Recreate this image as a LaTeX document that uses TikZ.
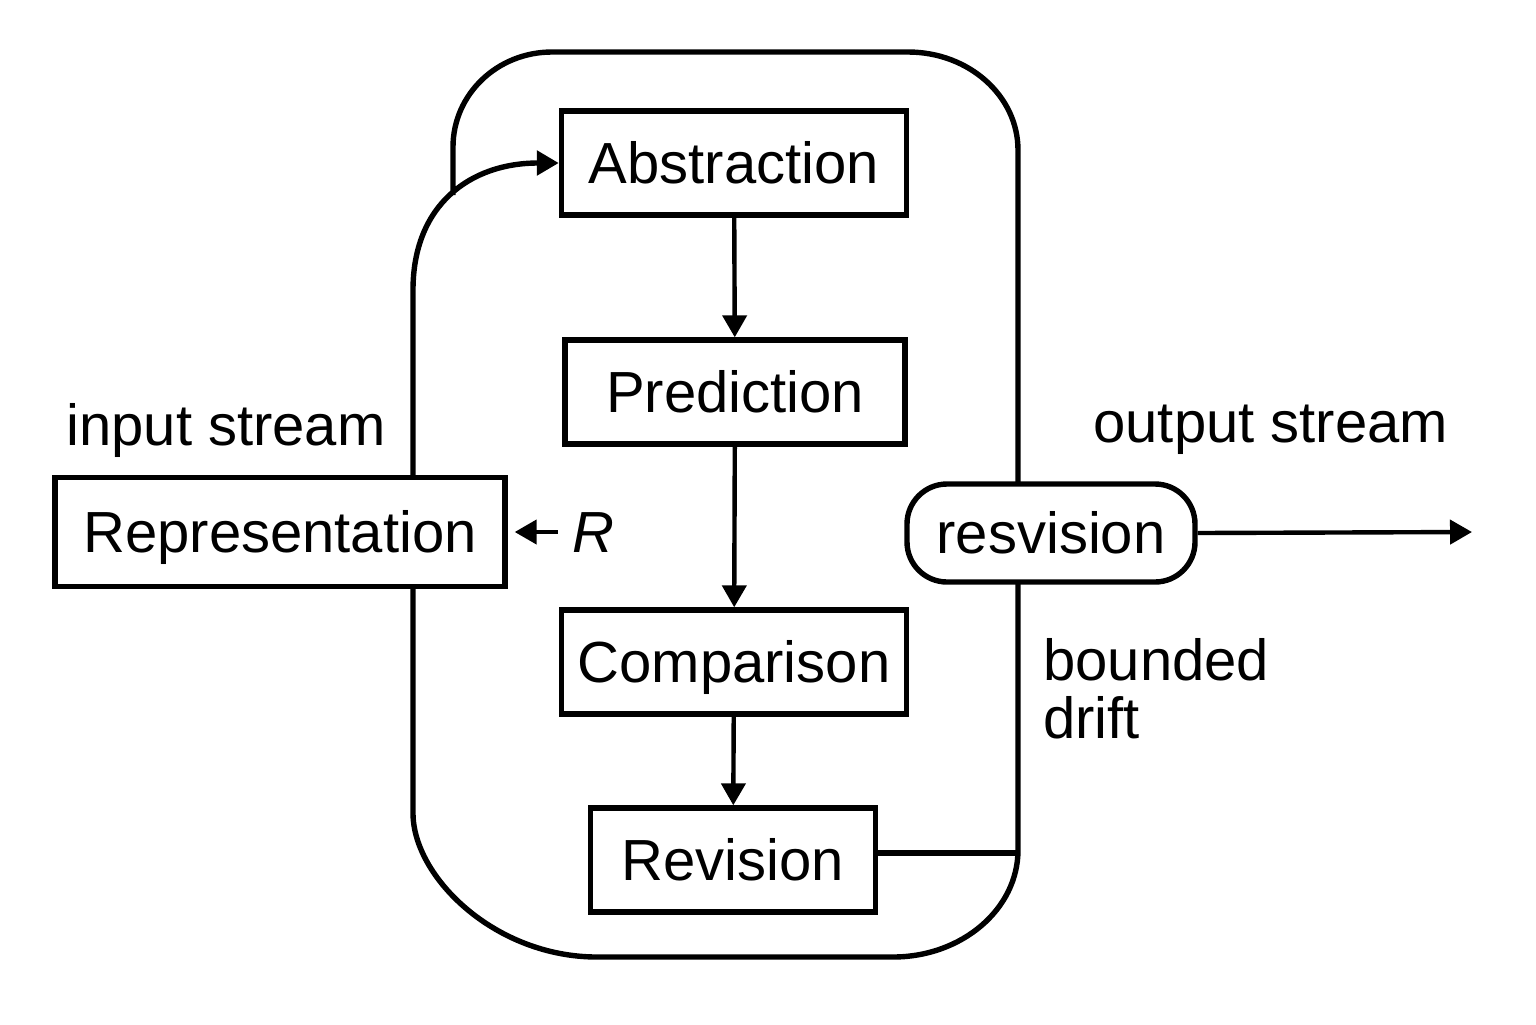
\documentclass[tikz,border=0pt]{standalone}
\usepackage{fontspec}
\setmainfont{Liberation Sans}
\usetikzlibrary{arrows.meta,backgrounds}
\begin{document}
\begin{tikzpicture}[x=0.5pt,y=-0.5pt,
  every node/.style={font=\fontsize{29}{35}\selectfont},
  boxnode/.style={draw,line width=2.7pt,fill=white,inner sep=0pt,minimum height=52pt,text height=20.8pt,text depth=0pt},
  roundnode/.style={draw,line width=2.7pt,fill=white,inner sep=0pt,rounded corners=20pt,minimum width=144pt,minimum height=49pt,text height=20.8pt,text depth=0pt},
  arr/.style={line width=2.2pt,-{Triangle[length=11pt,width=12pt]}},
  loopline/.style={line width=2.7pt},
  lbl/.style={inner sep=0pt,anchor=base west}]
\useasboundingbox (0,0) rectangle (1536,1024);
\node[boxnode,minimum width=172.5pt] (abs) at (734,163) {Abstraction};
\node[boxnode,minimum width=170pt] (pred) at (735,392) {Prediction};
\node[boxnode,minimum width=172.5pt] (comp) at (734,662) {Comparison};
\node[boxnode,minimum width=142.5pt] (rev) at (733,860) {Revision};
\node[boxnode,minimum width=225pt,minimum height=54.5pt] (rep) at (280,532) {Representation};
\node[roundnode] (resv) at (1051,533) {resvision};
\node[inner sep=0pt,text height=20.8pt,text depth=0pt] (R) at (593,532) {\itshape R};
\node[lbl] (in) at (66,445) {input stream};
\node[lbl] (out) at (1093,442) {output stream};
\node[lbl] (bd) at (1043,680) {bounded};
\node[lbl] (dr) at (1043,738) {drift};
\coordinate (J) at (453,195);
\coordinate (rightside) at (1018,0);
\coordinate (outend) at (1472,532);
\begin{scope}[on background layer]
\draw[loopline,-{Triangle[length=11pt,width=12pt]}]
  (J) -- (453,147) .. controls (453,94.5) and (497,52) .. (552,52)
  -- (908,52) .. controls (969,52) and (1018,96) .. (1018,150)
  -- (1018,850) .. controls (1018,909) and (962,957) .. (893,957)
  -- (597,957) .. controls (495,957) and (413,877) .. (413,813)
  -- (413,290) .. controls (413,205) and (470,163) .. (abs.west);
\end{scope}
\draw[arr] (abs) -- (pred);
\draw[arr] (pred) -- (comp);
\draw[arr] (comp) -- (rev);
\draw[arr,shorten >=3.5pt] ([xshift=-7pt]R.west) -- (rep.east);
\draw[loopline] ([yshift=3.5pt]rev.east) -- ([yshift=3.5pt]rev.east -| rightside);
\draw[arr] (resv.east) -- (outend);
\end{tikzpicture}
\end{document}
